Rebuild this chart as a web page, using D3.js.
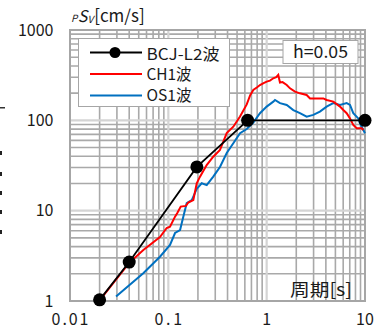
<!DOCTYPE html>
<html>
<head>
<meta charset="utf-8">
<script src="https://cdn.jsdelivr.net/npm/d3@7"></script>
<style>
  body { margin: 0; background: #fff; }
  text { font-family: "Noto Sans CJK JP", "Noto Sans", sans-serif; fill: #1a1a1a; }
</style>
</head>
<body>
<svg id="chart" width="386" height="329"></svg>
<script>
// BCJ-L2 design spectrum points (period [s], pSv [cm/s])
const bcjT = [0.02, 0.04, 0.195, 0.64, 10];
const bcjV = [1.03, 2.7, 30.5, 100, 100];

// CH1 wave
const chT = [0.0202, 0.0398, 0.0557, 0.0822, 0.0962, 0.104, 0.117, 0.123, 0.1337, 0.151,
  0.1595, 0.1795, 0.1945, 0.210, 0.2455, 0.2864, 0.335, 0.3926, 0.458, 0.536,
  0.627, 0.68, 0.731, 0.8, 0.855, 0.93, 1.0, 1.08, 1.168, 1.25, 1.312, 1.366, 1.45, 1.60,
  1.727, 1.941, 2.18, 2.55, 2.76, 3.23, 3.77, 4.07, 4.76, 5.57, 6.02, 6.51, 7.04,
  7.60, 8.23, 9.26, 9.61];
const chV = [1.03, 2.63, 3.67, 5.11, 6.43, 6.65, 8.58, 9.35, 11.1, 11.3,
  12.3, 13.1, 20.1, 23.8, 32.0, 39.6, 47.0, 72.4, 85.0, 110,
  150, 190, 217, 232, 246, 258, 268, 275, 292, 300, 318, 262, 265, 246,
  226, 208, 199, 191, 175, 175, 175, 168, 161, 142, 130, 120, 105,
  88.8, 81.6, 81.6, 78.2];

// OS1 wave
const osT = [0.0294, 0.0556, 0.0822, 0.104, 0.117, 0.1316, 0.142, 0.1537, 0.173, 0.1945,
  0.2185, 0.2455, 0.2864, 0.335, 0.3926, 0.458, 0.536, 0.627, 0.731, 0.855,
  1.0, 1.168, 1.215, 1.366, 1.60, 1.866, 2.18, 2.55, 2.98, 3.48,
  4.07, 4.76, 5.57, 6.51, 7.04, 7.60, 8.55, 8.89, 9.61, 10];
const osV = [1.12, 2.03, 3.09, 4.17, 5.66, 6.11, 8.58, 12.1, 13.1, 17.4,
  20.1, 19.2, 23.8, 30.4, 43.5, 55.7, 71.9, 80.2, 94.6, 120,
  142, 161, 168, 155, 148, 130, 120, 110, 115, 125,
  142, 155, 148, 155, 148, 120, 105, 92.7, 78.2, 71.9];

const xTickLabels = ["0.01", "0.1", "1", "10"];
const yTickLabels = ["1", "10", "100", "1000"];

const svg = d3.select("#chart");
const x = d3.scaleLog().domain([0.01, 10]).range([70, 365]);
const y = d3.scaleLog().domain([1, 1000]).range([301, 30]);

const isDecade = v => Math.abs(Math.log10(v) - Math.round(Math.log10(v))) < 1e-9;

// grid
const grid = svg.append("g");
grid.selectAll("line.gx").data(x.ticks().filter(d => !isDecade(d))).enter()
  .append("line").attr("x1", d => x(d)).attr("x2", d => x(d))
  .attr("y1", y(1)).attr("y2", y(1000))
  .attr("stroke", "#a9a9a9").attr("stroke-width", 1.6);
grid.selectAll("line.gy").data(y.ticks().filter(d => !isDecade(d))).enter()
  .append("line").attr("y1", d => y(d)).attr("y2", d => y(d))
  .attr("x1", x(0.01)).attr("x2", x(10))
  .attr("stroke", "#a9a9a9").attr("stroke-width", 1.6);
grid.selectAll("line.dx").data([0.1, 1]).enter()
  .append("line").attr("x1", d => x(d)).attr("x2", d => x(d))
  .attr("y1", y(1)).attr("y2", y(1000))
  .attr("stroke", "#d4d4d4").attr("stroke-width", 2.2);
grid.selectAll("line.dy").data([10, 100]).enter()
  .append("line").attr("y1", d => y(d)).attr("y2", d => y(d))
  .attr("x1", x(0.01)).attr("x2", x(10))
  .attr("stroke", "#d4d4d4").attr("stroke-width", 2.2);
svg.append("rect").attr("x", x(0.01)).attr("y", y(1000))
  .attr("width", x(10) - x(0.01)).attr("height", y(1) - y(1000))
  .attr("fill", "none").attr("stroke", "#a6a6a6").attr("stroke-width", 2);

// curves
const line = d3.line().x(d => x(d[0])).y(d => y(d[1]));
svg.append("path").datum(osT.map((t, i) => [t, osV[i]]))
  .attr("d", line).attr("fill", "none").attr("stroke", "#0070c0").attr("stroke-width", 2);
svg.append("path").datum(chT.map((t, i) => [t, chV[i]]))
  .attr("d", line).attr("fill", "none").attr("stroke", "#ff0000").attr("stroke-width", 2);
const bcj = bcjT.map((t, i) => [t, bcjV[i]]);
svg.append("path").datum(bcj)
  .attr("d", line).attr("fill", "none").attr("stroke", "#000").attr("stroke-width", 1.8);
svg.selectAll("circle.bcj").data(bcj).enter().append("circle")
  .attr("cx", d => x(d[0])).attr("cy", d => y(d[1])).attr("r", 6.5).attr("fill", "#000");

// tick labels
svg.selectAll("text.xl").data(xTickLabels).enter().append("text")
  .attr("x", d => x(+d)).attr("y", 325).attr("text-anchor", "middle")
  .attr("font-size", 16).text(d => d)
  .each(function (d) { if (d.includes(".")) d3.select(this).attr("textLength", d.length * 9.2).attr("lengthAdjust", "spacing"); });
svg.selectAll("text.yl").data(yTickLabels).enter().append("text")
  .attr("x", 53.5).attr("y", d => y(+d)).attr("dy", "0.36em").attr("text-anchor", "end")
  .attr("font-size", 16).text(d => d);

// axis titles
const yt = svg.append("text").attr("x", 71).attr("y", 22).attr("font-size", 17);
yt.append("tspan").attr("font-size", 10).attr("font-style", "italic").text("P");
yt.append("tspan").attr("font-size", 16).attr("font-style", "italic").attr("dx", 0.5).text("S");
yt.append("tspan").attr("font-size", 10).attr("font-style", "italic").attr("dy", 1).text("V");
yt.append("tspan").attr("dy", -1).attr("dx", 1).text("[cm/s]");
svg.append("text").attr("x", 290).attr("y", 296).attr("font-size", 17)
  .attr("textLength", 62).attr("lengthAdjust", "spacingAndGlyphs").text("周期[s]");

// legend
const lg = svg.append("g");
lg.append("rect").attr("x", 78.5).attr("y", 38.5).attr("width", 151).attr("height", 68)
  .attr("fill", "#fff").attr("stroke", "#a6a6a6").attr("stroke-width", 1);
const legendItems = [
  { name: "BCJ-L2波", color: "#000", dot: true, w: 73 },
  { name: "CH1波", color: "#ff0000", dot: false, w: 45 },
  { name: "OS1波", color: "#0070c0", dot: false, w: 45 }
];
legendItems.forEach((it, i) => {
  const cy = 52.5 + i * 21.5;
  lg.append("line").attr("x1", 90).attr("x2", 142).attr("y1", cy).attr("y2", cy)
    .attr("stroke", it.color).attr("stroke-width", 2);
  if (it.dot) lg.append("circle").attr("cx", 115).attr("cy", cy).attr("r", 5.5).attr("fill", "#000");
  lg.append("text").attr("x", 146.5).attr("y", 60 + i * 20.3).attr("font-size", 15.5)
    .attr("textLength", it.w).attr("lengthAdjust", "spacingAndGlyphs").text(it.name);
});

// damping box
svg.append("rect").attr("x", 283).attr("y", 40.5).attr("width", 75).attr("height", 23)
  .attr("fill", "#fff").attr("stroke", "#a6a6a6").attr("stroke-width", 1);
svg.append("text").attr("x", 293).attr("y", 57.5).attr("font-size", 17)
  .attr("textLength", 55).attr("lengthAdjust", "spacingAndGlyphs").text("h=0.05");

// fragments of neighbouring content at the left edge
svg.append("rect").attr("x", 0).attr("y", 107).attr("width", 5).attr("height", 1.5).attr("fill", "#333");
svg.selectAll("rect.frag").data([151, 172, 191, 210, 230]).enter().append("rect")
  .attr("x", 0).attr("y", d => d).attr("width", 2).attr("height", 4).attr("fill", "#222");
</script>
</body>
</html>
